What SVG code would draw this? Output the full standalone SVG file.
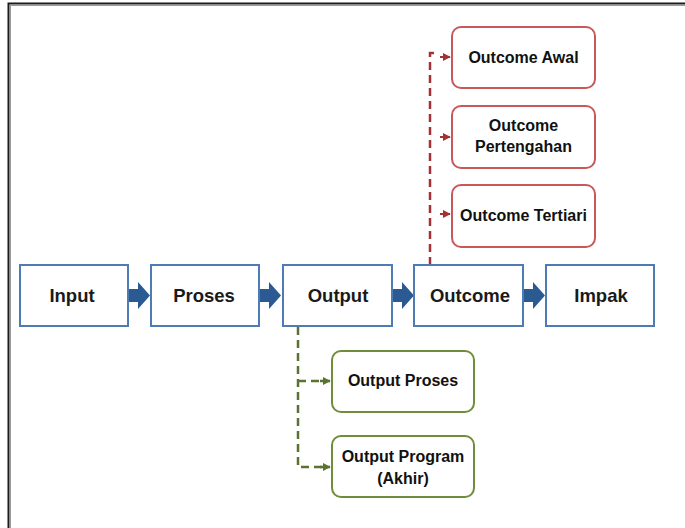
<svg xmlns="http://www.w3.org/2000/svg" width="685" height="528" viewBox="0 0 685 528">
  <defs>
    <style>
      .main rect { fill: #ffffff; stroke: #4f7bb5; stroke-width: 2; }
      .main text { font-family: "Liberation Sans", Arial, sans-serif; font-size: 18.5px; font-weight: bold; fill: #1a1a1a; text-anchor: middle; }
      .red rect { fill: #ffffff; stroke: #c9585a; stroke-width: 2; }
      .green rect { fill: #ffffff; stroke: #6f8d3a; stroke-width: 2; }
      .red text, .green text { font-family: "Liberation Sans", Arial, sans-serif; font-size: 16px; font-weight: bold; fill: #111; text-anchor: middle; }
      .flow { fill: #2a5a91; }
      .dash-red { fill: none; stroke: #a23234; stroke-width: 2.5; stroke-dasharray: 8 5; }
      .dash-green { fill: none; stroke: #5a7330; stroke-width: 2.5; stroke-dasharray: 8 5; }
    </style>
    <marker id="headRed" viewBox="0 0 10 10" refX="9" refY="5" markerWidth="8" markerHeight="8" markerUnits="userSpaceOnUse" orient="auto">
      <path d="M0,0 L10,5 L0,10 z" fill="#a23234"/>
    </marker>
    <marker id="headGreen" viewBox="0 0 10 10" refX="9" refY="5" markerWidth="8" markerHeight="8" markerUnits="userSpaceOnUse" orient="auto">
      <path d="M0,0 L10,5 L0,10 z" fill="#5a7330"/>
    </marker>
  </defs>

  <rect width="685" height="528" fill="#ffffff"/>
  <!-- outer frame -->
  <rect x="8.5" y="3.5" width="700" height="560" fill="none" stroke="#1a1a1a" stroke-width="2"/>
  <rect x="10.5" y="5.5" width="700" height="560" fill="none" stroke="#9a9a9a" stroke-width="1"/>

  <!-- connectors -->
  <g id="connectors">
    <!-- block arrows along the main chain -->
    <path class="flow" d="M129,289 H138 V282 L150,295.5 L138,309 V302 H129 z"/>
    <path class="flow" d="M260,289 H269 V282 L281,295.5 L269,309 V302 H260 z"/>
    <path class="flow" d="M393,289 H402 V282 L414,295.5 L402,309 V302 H393 z"/>
    <path class="flow" d="M524,289 H533 V282 L545,295.5 L533,309 V302 H524 z"/>

    <!-- outcome branches -->
    <path class="dash-red" d="M430,265 V53 H434"/>
    <path d="M440,57 H450" stroke="#a23234" stroke-width="2" marker-end="url(#headRed)"/>
    <path d="M440,137 H450" stroke="#a23234" stroke-width="2" marker-end="url(#headRed)"/>
    <path d="M440,214 H450" stroke="#a23234" stroke-width="2" marker-end="url(#headRed)"/>

    <!-- output branches -->
    <path class="dash-green" d="M298,327 V467 H322"/>
    <path class="dash-green" d="M298,381 H322"/>
    <path d="M320,381 H330" stroke="#5a7330" stroke-width="2.5" marker-end="url(#headGreen)"/>
    <path d="M320,467 H330" stroke="#5a7330" stroke-width="2.5" marker-end="url(#headGreen)"/>
  </g>

  <!-- main chain -->
  <g id="input" class="main">
    <rect x="20" y="265" width="108" height="61"/>
    <text x="72" y="302">Input</text>
  </g>
  <g id="proses" class="main">
    <rect x="151" y="265" width="108" height="61"/>
    <text x="204" y="302">Proses</text>
  </g>
  <g id="output" class="main">
    <rect x="283" y="265" width="109" height="61"/>
    <text x="338" y="302">Output</text>
  </g>
  <g id="outcome" class="main">
    <rect x="414" y="265" width="109" height="61"/>
    <text x="470" y="302">Outcome</text>
  </g>
  <g id="impak" class="main">
    <rect x="546" y="265" width="108" height="61"/>
    <text x="601" y="302">Impak</text>
  </g>

  <!-- outcome levels -->
  <g id="outcome-awal" class="red">
    <rect x="452" y="27" width="143" height="61" rx="9"/>
    <text x="523.5" y="63">Outcome Awal</text>
  </g>
  <g id="outcome-pertengahan" class="red">
    <rect x="452" y="106" width="143" height="62" rx="9"/>
    <text x="523.5" y="131">Outcome</text>
    <text x="523.5" y="152">Pertengahan</text>
  </g>
  <g id="outcome-tertiari" class="red">
    <rect x="452" y="185" width="143" height="62" rx="9"/>
    <text x="523.5" y="221">Outcome Tertiari</text>
  </g>

  <!-- output levels -->
  <g id="output-proses" class="green">
    <rect x="332" y="351" width="142" height="61" rx="9"/>
    <text x="403" y="386">Output Proses</text>
  </g>
  <g id="output-program" class="green">
    <rect x="332" y="436" width="142" height="61" rx="9"/>
    <text x="403" y="462">Output Program</text>
    <text x="403" y="484">(Akhir)</text>
  </g>
</svg>
